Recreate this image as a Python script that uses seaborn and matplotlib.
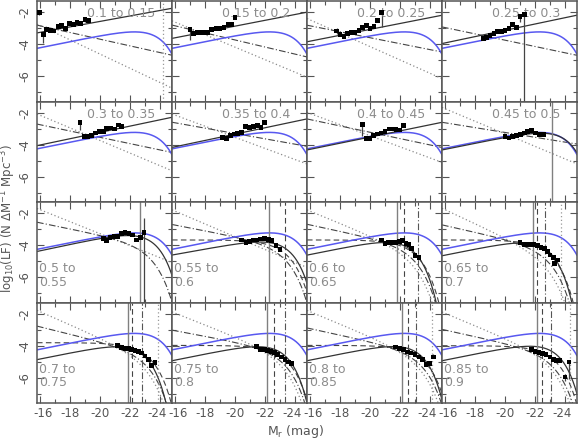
import numpy as np
import matplotlib
matplotlib.use("Agg")
import matplotlib.pyplot as plt
import matplotlib.transforms as mtransforms
import seaborn as sns

# ========== PANEL DATA ==========
Z_LABELS = ["0.1 to 0.15", "0.15 to 0.2", "0.2 to 0.25", "0.25 to 0.3",
            "0.3 to 0.35", "0.35 to 0.4", "0.4 to 0.45", "0.45 to 0.5",
            "0.5 to\n0.55", "0.55 to\n0.6", "0.6 to\n0.65", "0.65 to\n0.7",
            "0.7 to\n0.75", "0.75 to\n0.8", "0.8 to\n0.85", "0.85 to\n0.9"]

# measured LF points (M_r, log10 LF) per panel
LF_MAG = [
    [-15.95, -16.22, -16.45, -16.71, -16.93, -17.22, -17.45, -17.71, -17.95, -18.22, -18.47, -18.71, -19.0, -19.22],
    [-17.0, -17.22, -17.49, -17.71, -17.93, -18.15, -18.45, -18.73, -19.0, -19.27, -19.55, -19.78, -20.0],
    [-17.78, -18.0, -18.27, -18.51, -18.78, -19.0, -19.27, -19.51, -19.78, -20.0, -20.27, -20.51, -20.78],
    [-18.56, -18.78, -19.0, -19.27, -19.51, -19.78, -20.0, -20.27, -20.51, -20.78, -21.0, -21.29],
    [-18.67, -18.95, -19.15, -19.45, -19.71, -19.95, -20.22, -20.45, -20.73, -20.95, -21.22, -21.45],
    [-19.18, -19.44, -19.71, -19.95, -20.18, -20.44, -20.71, -20.95, -21.22, -21.49, -21.73, -21.95],
    [-19.49, -19.73, -20.0, -20.22, -20.49, -20.73, -21.0, -21.27, -21.51, -21.73, -21.95, -22.22],
    [-20.0, -20.27, -20.51, -20.78, -21.05, -21.29, -21.51, -21.78, -22.05, -22.29, -22.55],
    [-20.22, -20.45, -20.67, -20.93, -21.15, -21.45, -21.67, -21.93, -22.18, -22.45, -22.71, -22.93],
    [-20.44, -20.73, -20.95, -21.22, -21.45, -21.71, -21.95, -22.22, -22.45, -22.73, -23.0],
    [-20.78, -21.0, -21.22, -21.49, -21.71, -21.95, -22.15, -22.4, -22.6, -22.78, -23.0, -23.27],
    [-21.0, -21.27, -21.49, -21.71, -21.93, -22.18, -22.4, -22.62, -22.82, -23.0, -23.22, -23.29, -23.49],
    [-21.18, -21.45, -21.67, -21.89, -22.11, -22.33, -22.55, -22.78, -23.0, -23.22, -23.45, -23.67],
    [-21.45, -21.71, -21.95, -22.18, -22.4, -22.62, -22.85, -23.11, -23.33, -23.55, -23.78],
    [-21.71, -21.95, -22.22, -22.49, -22.73, -23.0, -23.27, -23.51, -23.73, -23.95, -24.22],
    [-21.78, -22.0, -22.27, -22.49, -22.73, -23.0, -23.22, -23.45, -23.67, -24.0, -24.27],
]
LF_LOGPHI = [
    [-2.02, -3.39, -3.06, -3.12, -3.17, -2.87, -2.83, -3.0, -2.73, -2.77, -2.64, -2.69, -2.44, -2.5],
    [-3.08, -3.33, -3.27, -3.25, -3.25, -3.25, -3.08, -3.0, -3.04, -2.98, -2.79, -2.75, -2.33],
    [-3.17, -3.39, -3.5, -3.33, -3.27, -3.27, -3.13, -2.96, -2.81, -3.02, -2.88, -2.54, -2.02],
    [-3.64, -3.58, -3.48, -3.33, -3.19, -3.19, -3.13, -3.02, -2.75, -2.96, -2.29, -2.14],
    [-2.61, -3.5, -3.48, -3.44, -3.27, -3.19, -3.19, -2.98, -2.96, -3.02, -2.77, -2.86],
    [-3.54, -3.6, -3.44, -3.33, -3.29, -3.23, -2.88, -2.92, -2.88, -2.81, -2.92, -2.61],
    [-2.75, -3.6, -3.6, -3.44, -3.33, -3.27, -3.19, -3.02, -3.02, -3.06, -3.08, -2.81],
    [-3.48, -3.58, -3.48, -3.4, -3.38, -3.27, -3.17, -3.13, -3.27, -3.38, -3.38],
    [-3.56, -3.71, -3.52, -3.46, -3.46, -3.29, -3.21, -3.25, -3.36, -3.67, -3.52, -3.21],
    [-3.67, -3.83, -3.77, -3.67, -3.67, -3.61, -3.56, -3.63, -3.73, -4.02, -4.29],
    [-3.67, -3.88, -3.81, -3.81, -3.81, -3.77, -3.73, -3.88, -3.98, -4.19, -4.64, -4.77],
    [-3.81, -3.94, -3.94, -3.94, -3.98, -4.04, -4.14, -4.19, -4.4, -4.61, -4.77, -5.13, -4.92],
    [-3.98, -4.13, -4.15, -4.19, -4.23, -4.29, -4.36, -4.46, -4.64, -4.86, -5.23, -5.06],
    [-4.04, -4.25, -4.25, -4.29, -4.36, -4.44, -4.54, -4.71, -4.86, -5.02, -5.13],
    [-4.08, -4.19, -4.25, -4.39, -4.46, -4.56, -4.71, -4.88, -5.17, -5.13, -4.71],
    [-4.23, -4.36, -4.4, -4.5, -4.56, -4.71, -4.86, -4.92, -4.92, -5.96, -5.02],
]
# error bars that are visible: (panel, M, low, high)
ERR_BARS = [
    (0, -15.95, -2.15, -1.9), (0, -16.22, -3.94, -3.3), (0, -19.0, -2.6, -2.3),
    (1, -17.0, -3.75, -3.0), (1, -20.0, -2.45, -2.2),
    (2, -17.78, -3.35, -3.0), (2, -20.78, -2.92, -1.9),
    (3, -21.0, -2.6, -2.1), (3, -21.29, -7.6, -2.0),
    (4, -18.67, -3.1, -2.5),
    (6, -19.49, -3.48, -2.65),
    (8, -22.93, -7.6, -2.31),
    (14, -23.95, -5.3, -4.95), (14, -24.22, -4.75, -4.5),
    (15, -24.0, -6.2, -5.75), (15, -24.27, -6.06, -4.9),
]

# model curves: log LF at M=-16, faint-end slope (dex/mag), M* (None = no cutoff)
BLACK_Y16 = [-3.26, -3.60, -3.81, -3.92, -4.02, -4.13, -4.29, -4.29,
             -4.35, -4.58, -4.58, -4.62, -4.83, -4.90, -4.90, -4.90]
BLACK_SLOPE = [0.171, 0.182, 0.184, 0.197, 0.197, 0.198, 0.192, 0.19,
               0.20, 0.17, 0.19, 0.19, 0.19, 0.19, 0.19, 0.19]
BLACK_MSTAR = [None, None, None, None, None, None, None, -23.2,
               -22.6, -22.6, -21.85, -21.9, -21.9, -22.3, -22.35, -22.45]
BLUE_Y16, BLUE_SLOPE, BLUE_MSTAR = -4.22, 0.19, -23.1
DASHDOT_Y16 = [-2.85, -2.85, -2.85, -2.96, -2.75, -2.63, -2.43, -2.63,
               -2.60, -2.74, -2.73, -2.77, -2.82, -3.06, -2.93, -3.02]
DASHDOT_SLOPE = [-0.209, -0.221, -0.186, -0.197, -0.197, -0.167, -0.198, -0.151,
                 -0.19, -0.18, -0.2, -0.21, -0.23, -0.175, -0.203, -0.205]
DOTTED_Y16 = [-2.84, -2.62, -2.48, None, -2.16, -2.15, -2.05, -1.75,
              -1.78, -1.87, -1.87, -1.78, -1.87, -1.96, -1.87, -1.97]
DOTTED_SLOPE = [-0.444, -0.391, -0.417, None, -0.394, -0.347, -0.347, -0.392,
                -0.375, -0.4, -0.383, -0.435, -0.41, -0.37, -0.39, -0.39]
DOTTED_MSTAR = [None] * 10 + [-22.2, -22.16, -22.4, -22.55, -22.7, -22.47]
DASHED_Y16 = [None] * 9 + [-3.67, -3.67, -3.67, -3.81, -3.98, -3.98, -4.0]
MODEL_MSTAR = [None] * 8 + [-22.6, -22.6, -22.2, -22.16, -22.4, -22.55, -22.7, -22.47]

# vertical magnitude limits
VLINE_SOLID = [None] * 7 + [-23.15, -22.67, -22.27, -21.78, -21.85, -21.89, -22.15, -22.15, -22.11]
VLINE_DASHED = [None] * 9 + [-23.33, -22.29, -22.15, -22.15, -22.62, -22.51, -22.49]
VLINE_DASHDOT = [None] * 10 + [-23.18, -22.67, -22.78, -23.33, -23.04, -23.07]
VLINE_DOTTED = [-24.2] + [None] * 10 + [-23.71, -23.84, None, -24.11, -24.33]

X_TICKS = [-16, -18, -20, -22, -24]
X_TICKLABELS = ["-16", "-18", "-20", "-22", "-24"]


def schechter_log(M, y16, slope, mstar):
    y = y16 + slope * (-16.0 - M)
    if mstar is not None:
        y = y - np.log10(np.e) * 10 ** (0.4 * (mstar - M))
    return y


# ========== PLOT ==========
sns.set_style("ticks")
plt.rcParams['font.family'] = ['DejaVu Sans']

fig, axes = plt.subplots(4, 4, figsize=(5.8, 4.45), dpi=100, sharex=True, sharey=True)
fig.subplots_adjust(left=37 / 580, right=577 / 580, top=1 - 1 / 445, bottom=1 - 403 / 445,
                    hspace=0, wspace=0)

mgrid = np.linspace(-15.8, -24.8, 300)
blue = "#5858f0"

for i, ax in enumerate(axes.flat):
    if DOTTED_Y16[i] is not None:
        sns.lineplot(x=mgrid, y=schechter_log(mgrid, DOTTED_Y16[i], DOTTED_SLOPE[i], DOTTED_MSTAR[i]),
                     ax=ax, color="#8a8a8a", lw=0.9, linestyle=(0, (1, 2)), sort=False, estimator=None)
    sns.lineplot(x=mgrid, y=schechter_log(mgrid, DASHDOT_Y16[i], DASHDOT_SLOPE[i], MODEL_MSTAR[i]),
                 ax=ax, color="#444444", lw=0.8, linestyle=(0, (6, 2, 1, 2)), sort=False, estimator=None)
    if DASHED_Y16[i] is not None:
        sns.lineplot(x=mgrid, y=schechter_log(mgrid, DASHED_Y16[i], 0.0, MODEL_MSTAR[i]),
                     ax=ax, color="#444444", lw=0.8, linestyle=(0, (5, 3)), sort=False, estimator=None)
    sns.lineplot(x=mgrid, y=schechter_log(mgrid, BLUE_Y16, BLUE_SLOPE, BLUE_MSTAR),
                 ax=ax, color=blue, lw=1.1, sort=False, estimator=None)
    sns.lineplot(x=mgrid, y=schechter_log(mgrid, BLACK_Y16[i], BLACK_SLOPE[i], BLACK_MSTAR[i]),
                 ax=ax, color="#333333", lw=0.9, sort=False, estimator=None)

    if VLINE_SOLID[i] is not None:
        ax.axvline(VLINE_SOLID[i], color="#808080", lw=1.0)
    if VLINE_DASHED[i] is not None:
        ax.axvline(VLINE_DASHED[i], color="#444444", lw=0.8, linestyle=(0, (5, 3)))
    if VLINE_DASHDOT[i] is not None:
        ax.axvline(VLINE_DASHDOT[i], color="#555555", lw=0.8, linestyle=(0, (6, 2, 1, 2)))
    if VLINE_DOTTED[i] is not None:
        ax.axvline(VLINE_DOTTED[i], color="#999999", lw=0.9, linestyle=(0, (1, 2)))

    for p, m, lo, hi in ERR_BARS:
        if p == i:
            ax.vlines(m, lo, hi, color="#444444", lw=0.9)

    sns.scatterplot(x=LF_MAG[i], y=LF_LOGPHI[i], ax=ax, marker="s", s=12,
                    color="black", edgecolor="none", zorder=5)

    if i < 8:
        ax.text(0.37, 0.874, Z_LABELS[i], transform=ax.transAxes, ha="left", va="center",
                fontsize=9, color="#8c8c8c")
    else:
        ax.text(0.015, 0.40, Z_LABELS[i], transform=ax.transAxes, ha="left", va="top",
                fontsize=9, color="#8c8c8c", linespacing=1.05)

    ax.set_xlim(-15.8, -24.8)
    ax.set_ylim(-7.58, -1.3)
    ax.set_xticks(X_TICKS)
    ax.set_xticks(np.arange(-17, -25, -2), minor=True)
    ax.set_yticks([-2, -4, -6])
    ax.set_yticks([-3, -5, -7], minor=True)
    ax.tick_params(which="both", direction="in", top=True, right=True, color="#555555",
                   labelsize=8.5, labelcolor="#555555", width=0.8)
    ax.tick_params(which="major", length=5)
    ax.tick_params(which="minor", length=3)
    ax.set_xlabel("")
    ax.set_ylabel("")
    for sp in ax.spines.values():
        sp.set_color("#555555")
        sp.set_linewidth(1.1)

for ax in axes[:, 0]:
    ax.set_yticklabels(["-2", "-4", "-6"])
    for lab in ax.get_yticklabels():
        lab.set_rotation(90)
        lab.set_va("center")
    ax.tick_params(axis="y", pad=4)

# nudge the edge labels apart so neighbouring panels do not collide
shift_right = mtransforms.ScaledTranslation(3 / 100, 0, fig.dpi_scale_trans)
shift_left = mtransforms.ScaledTranslation(-3 / 100, 0, fig.dpi_scale_trans)
for ax in axes[-1, :]:
    ax.set_xticklabels(X_TICKLABELS)
    ax.tick_params(axis="x", pad=3)
    labs = ax.get_xticklabels()
    labs[0].set_transform(labs[0].get_transform() + shift_right)
    labs[-1].set_transform(labs[-1].get_transform() + shift_left)

fig.text(0.015, 0.51, r"log$_{10}$(LF) (N $\Delta$M$^{-1}$ Mpc$^{-3}$)", rotation=90,
         ha="center", va="center", fontsize=8.5, color="#555555")
fig.text(0.51, 0.03, r"M$_{\rm r}$ (mag)", ha="center", va="center", fontsize=9, color="#555555")

fig.savefig("out.png", dpi=100)
